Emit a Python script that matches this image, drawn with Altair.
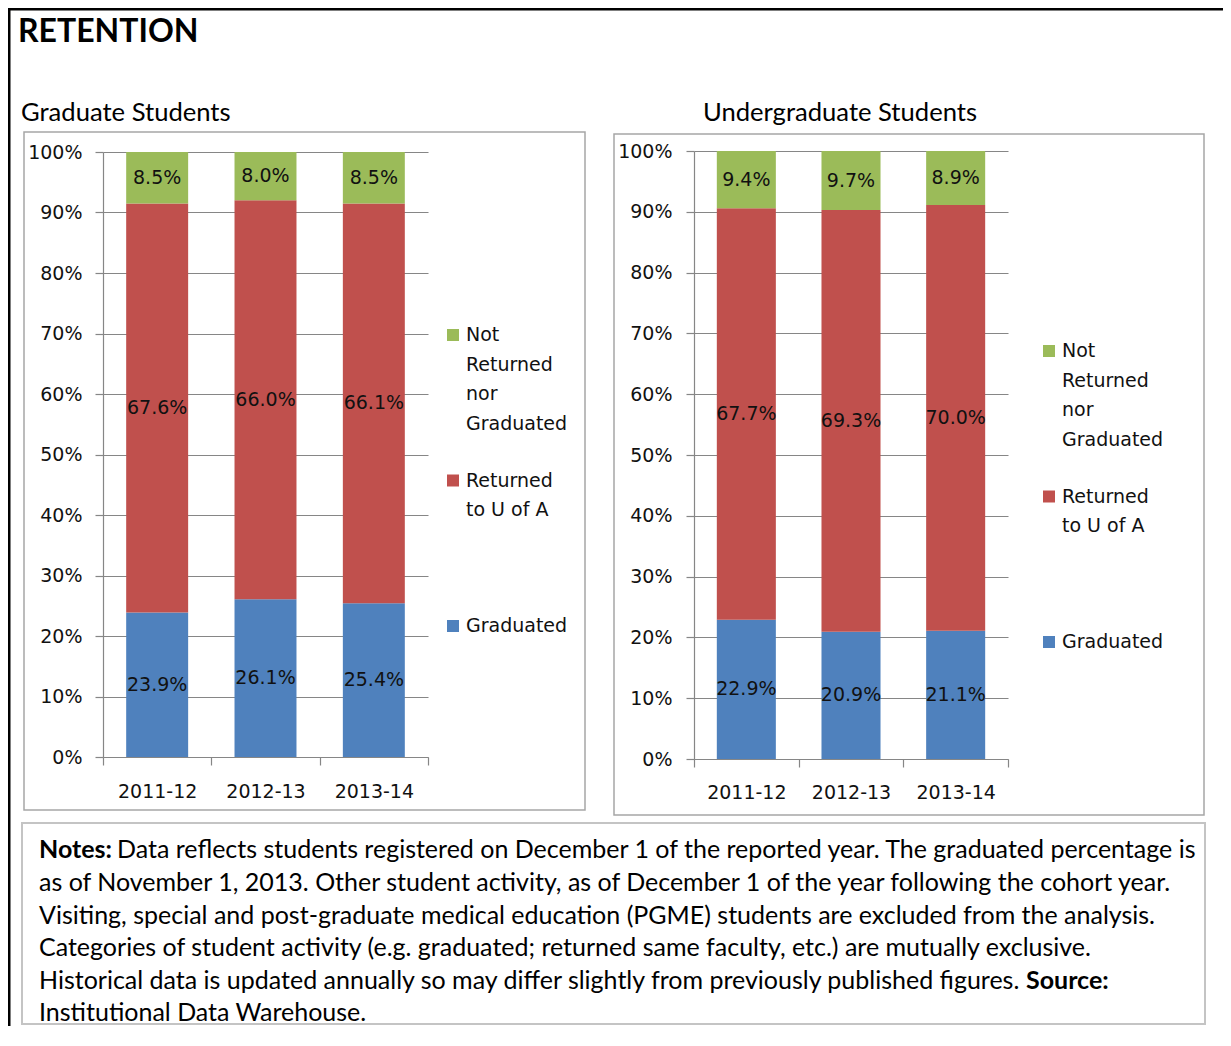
import altair as alt
import pandas as pd

# ---------------- data ----------------
YEARS = ["2011-12", "2012-13", "2013-14"]
SERIES = ["Graduated", "Returned to U of A", "Not Returned nor Graduated"]
SERIES_COLORS = ["#4F81BD", "#C0504D", "#9BBB59"]

GRAD_GRADUATED = [23.9, 26.1, 25.4]
GRAD_RETURNED = [67.6, 66.0, 66.1]
GRAD_NOT_RETURNED = [8.5, 8.0, 8.5]

UG_GRADUATED = [22.9, 20.9, 21.1]
UG_RETURNED = [67.7, 69.3, 70.0]
UG_NOT_RETURNED = [9.4, 9.7, 8.9]

Y_TICKS = [0.0, 0.1, 0.2, 0.3, 0.4, 0.5, 0.6, 0.7, 0.8, 0.9, 1.0]

LEGEND_ORDER = ["Not Returned nor Graduated", "Returned to U of A", "Graduated"]
LEGEND_LINES = [["Not", "Returned", "nor", "Graduated"], ["Returned", "to U of A"], ["Graduated"]]

MAIN_TITLE = "RETENTION"
PANEL_TITLES = ["Graduate Students", "Undergraduate Students"]
NOTES_HEAD = "Notes:"
NOTES_LINES = [
    "Data reflects students registered on December 1 of the reported year. The graduated percentage is",
    "as of November 1, 2013.  Other student activity, as of December 1 of the year following the cohort year.",
    "Visiting, special and post-graduate medical education (PGME) students are excluded from the analysis.",
    "Categories of student activity (e.g. graduated; returned same faculty, etc.) are mutually exclusive.",
    "Historical data is updated annually so may differ slightly from previously published figures.",
    "Institutional Data Warehouse.",
]
NOTES_TAIL = "Source:"

# ---------------- style ----------------
W, H = 1215, 1018
CF = "DejaVu Sans"
TF = "Lato"
TXT = "#111111"
GRID = "#868686"
CSCALE = alt.Scale(domain=SERIES, range=SERIES_COLORS)


def panel(graduated, returned, notret, xr, yr, band, ylab_pad, xlab_pad):
    df = pd.DataFrame({
        "year": YEARS * 3,
        "series": [SERIES[0]] * 3 + [SERIES[1]] * 3 + [SERIES[2]] * 3,
        "value": graduated + returned + notret,
        "order": [0] * 3 + [1] * 3 + [2] * 3,
    })
    xs = alt.Scale(domain=YEARS, range=xr, paddingInner=0, paddingOuter=0)
    ys = alt.Scale(domain=[0, 1], range=yr, nice=False)
    stacked = alt.Chart(df).transform_stack(
        stack="value", groupby=["year"], as_=["y0", "y1"], offset="normalize",
        sort=[alt.SortField("order", order="ascending")],
    )
    xaxis = alt.Axis(
        title=None, orient="bottom", offset=yr[0] - H, tickBand="extent", labelAngle=0,
        grid=False, domainColor=GRID, tickColor=GRID, tickSize=8, domainWidth=1.2, tickWidth=1.2,
        labelFont=CF, labelFontSize=19, labelColor=TXT, labelPadding=xlab_pad,
    )
    yaxis = alt.Axis(
        title=None, orient="left", offset=-xr[0], values=Y_TICKS, format=".0%",
        grid=True, gridColor=GRID, gridWidth=1.2, domainColor=GRID, tickColor=GRID,
        tickSize=8, domainWidth=1.2, tickWidth=1.2,
        labelFont=CF, labelFontSize=19, labelColor=TXT, labelPadding=ylab_pad,
    )
    bars = stacked.mark_bar(width=alt.RelativeBandSize(band)).encode(
        x=alt.X("year:N", scale=xs, axis=xaxis),
        y=alt.Y("y0:Q", scale=ys, axis=yaxis),
        y2="y1:Q",
        color=alt.Color("series:N", scale=CSCALE, legend=None),
    )
    labels = stacked.transform_calculate(
        mid="(datum.y0 + datum.y1) / 2",
        label="format(datum.value, '.1f') + '%'",
    ).mark_text(font=CF, fontSize=19, color=TXT, baseline="middle").encode(
        x=alt.X("year:N", scale=xs, axis=None),
        y=alt.Y("mid:Q", scale=ys, axis=None),
        text="label:N",
    )
    return [bars, labels]


def legend(sq_x, tx_x, y_first, item_gap, line_gap):
    out = []
    for i, (name, lines) in enumerate(zip(LEGEND_ORDER, LEGEND_LINES)):
        y0 = y_first + i * item_gap
        out.append(
            alt.Chart(pd.DataFrame({"series": [name]})).mark_square(size=144, opacity=1).encode(
                x=alt.value(sq_x), y=alt.value(y0),
                color=alt.Color("series:N", scale=CSCALE, legend=None),
            )
        )
        for j, line in enumerate(lines):
            out.append(
                alt.Chart().mark_text(align="left", baseline="middle", font=CF, fontSize=19, color=TXT).encode(
                    x=alt.value(tx_x), y=alt.value(y0 + j * line_gap), text=alt.value(line)
                )
            )
    return out


def frame(x1, x2, y1, y2, color, sw):
    return alt.Chart().mark_rect(fillOpacity=0, stroke=color, strokeWidth=sw).encode(
        x=alt.value(x1), x2=alt.value(x2), y=alt.value(y1), y2=alt.value(y2)
    )


def bar_fill(x1, x2, y1, y2, color):
    return alt.Chart().mark_rect(color=color).encode(
        x=alt.value(x1), x2=alt.value(x2), y=alt.value(y1), y2=alt.value(y2)
    )


def text(t, x, y, size, font=TF, weight="normal", baseline="middle"):
    return alt.Chart().mark_text(
        align="left", baseline=baseline, font=font, fontSize=size, fontWeight=weight, color="#000000"
    ).encode(x=alt.value(x), y=alt.value(y), text=alt.value(t))


layers = []
# outer black frame (left and top edges) as filled strips
layers.append(bar_fill(0, 2.5, 0, H, "black"))
layers.append(bar_fill(0, W, 0, 2.5, "black"))

# panel frames
layers.append(frame(16, 577, 124, 802, "#A6A6A6", 1.5))
layers.append(frame(606, 1196, 126, 807, "#A6A6A6", 1.5))
# notes frame
layers.append(frame(14, 1197, 815, 1016, "#C4C4C4", 2))

# titles
layers.append(text(MAIN_TITLE, 10, 34, 32, weight="bold", baseline="alphabetic"))
layers.append(text(PANEL_TITLES[0], 13, 113, 25.6, baseline="alphabetic"))
layers.append(text(PANEL_TITLES[1], 695, 113, 25.6, baseline="alphabetic"))

# charts
layers += panel(GRAD_GRADUATED, GRAD_RETURNED, GRAD_NOT_RETURNED, [95, 420], [749, 144], 0.572, 13, 17)
layers += panel(UG_GRADUATED, UG_RETURNED, UG_NOT_RETURNED, [686, 1000], [751, 143], 0.564, 14, 16)

# legends
layers += legend(445, 458, 327, 145.5, 29.7)
layers += legend(1041, 1054, 343, 145.5, 29.7)

# notes
NOTE_FS = 25
NOTE_Y = [842, 875, 908, 940, 973, 1005]
layers.append(text(NOTES_HEAD, 31, NOTE_Y[0], NOTE_FS, weight="bold"))
layers.append(text(NOTES_LINES[0], 109, NOTE_Y[0], NOTE_FS))
for k in range(1, 6):
    layers.append(text(NOTES_LINES[k], 31, NOTE_Y[k], NOTE_FS))
layers.append(text(NOTES_TAIL, 1018, NOTE_Y[4], NOTE_FS, weight="bold"))

chart = alt.layer(*layers).resolve_scale(x="independent", y="independent").properties(
    width=W, height=H, padding=0
).configure_view(strokeWidth=0).configure_legend(disable=True)

chart.save("out.html", embed_options={"renderer": "svg", "actions": False})
